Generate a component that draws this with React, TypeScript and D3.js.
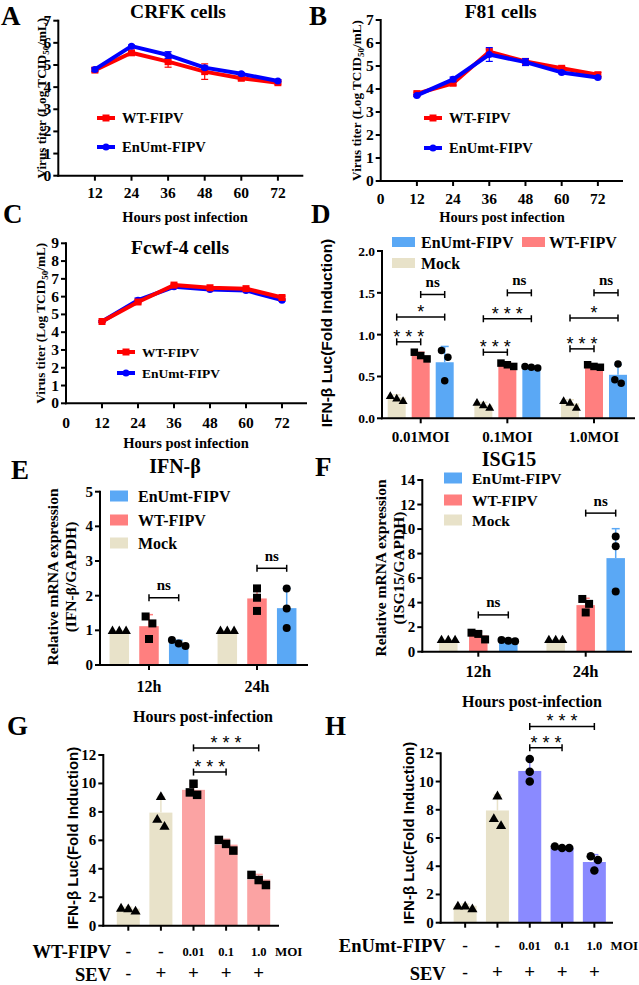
import React from "react";
import * as d3 from "d3";

const SERIF = "'Liberation Serif', 'Times New Roman', serif";
const SANS = "'Liberation Sans', Arial, sans-serif";

// ---------- Panels A–C: virus titer time courses ----------
const hours = [12, 24, 36, 48, 60, 72];
const crfkWT = [4.77, 5.55, 5.15, 4.7, 4.4, 4.2];
const crfkWTErr = [0.08, 0.06, 0.25, 0.35, 0.08, 0.06];
const crfkEn = [4.8, 5.85, 5.45, 4.88, 4.6, 4.28];
const crfkEnErr = [0.08, 0.05, 0.15, 0.08, 0.06, 0.05];
const f81WT = [3.8, 4.25, 5.62, 5.2, 4.9, 4.62];
const f81WTErr = [0.06, 0.08, 0.12, 0.1, 0.08, 0.1];
const f81En = [3.72, 4.42, 5.5, 5.17, 4.72, 4.5];
const f81EnErr = [0.05, 0.1, 0.3, 0.15, 0.06, 0.05];
const fcwfWT = [4.6, 5.7, 6.65, 6.5, 6.45, 5.95];
const fcwfWTErr = [0.05, 0.1, 0.06, 0.06, 0.05, 0.08];
const fcwfEn = [4.6, 5.8, 6.55, 6.4, 6.35, 5.8];
const fcwfEnErr = [0.05, 0.12, 0.05, 0.05, 0.05, 0.06];

// ---------- Panel D: IFN-β luciferase by MOI ----------
const dGroups = ["0.01MOI", "0.1MOI", "1.0MOI"];
const dMock = [0.25, 0.16, 0.18];
const dWT = [0.75, 0.64, 0.62];
const dEn = [0.67, 0.61, 0.52];
const dMockPts = [[0.27, 0.21, 0.24], [0.19, 0.13, 0.16], [0.21, 0.13, 0.19]];
const dWTPts = [[0.79, 0.71, 0.75], [0.66, 0.62, 0.64], [0.64, 0.61, 0.62]];
const dEnPts = [[0.81, 0.45, 0.73], [0.61, 0.6, 0.62], [0.42, 0.65, 0.46]];
const dBrackets: [number, number, number, number, string][] = [
  [0, 0, 1, 0.914, "***"], [0, 0, 2, 1.21, "*"], [0, 1, 2, 1.48, "ns"],
  [1, 0, 1, 0.79, "***"], [1, 0, 2, 1.19, "***"], [1, 1, 2, 1.5, "ns"],
  [2, 0, 1, 0.83, "***"], [2, 0, 2, 1.2, "*"], [2, 1, 2, 1.5, "ns"],
];

// ---------- Panels E, F: relative mRNA ----------
const timeGroups = ["12h", "24h"];
const eMock = [1.0, 1.0];
const eWT = [1.12, 1.92];
const eEn = [0.63, 1.64];
const eMockPts = [[1, 1, 1], [1, 1, 1]];
const eWTPts = [[1.2, 0.75, 1.4], [2.21, 1.94, 1.56]];
const eEnPts = [[0.55, 0.72, 0.62], [2.21, 1.63, 1.07]];
const eBrackets: [number, number, number, number, string][] = [
  [0, 1, 2, 1.94, "ns"], [1, 1, 2, 2.79, "ns"],
];
const fMock = [1.0, 1.0];
const fWT = [1.33, 3.8];
const fEn = [0.9, 7.63];
const fMockPts = [[1, 1, 1], [1, 1, 1]];
const fWTPts = [[1.55, 1.45, 1.0], [3.2, 3.9, 4.3]];
const fEnPts = [[0.9, 0.95, 0.85], [9.4, 8.6, 4.9]];
const fBrackets: [number, number, number, number, string][] = [
  [0, 1, 2, 3.0, "ns"], [1, 1, 2, 11.3, "ns"],
];

// ---------- Panels G, H: SEV induced IFN-β ----------
const virusRow = ["-", "-", "0.01", "0.1", "1.0"];
const sevRow = ["-", "+", "+", "+", "+"];
const gVals = [1.2, 7.95, 9.55, 5.7, 3.25];
const gPts = [[1.2, 1.05, 1.25], [7.0, 9.1, 7.5], [9.2, 9.98, 9.37], [5.28, 6.03, 5.75], [3.57, 2.86, 3.21]];
const gBrackets: [number, number, number, string][] = [[2, 3, 10.8, "***"], [2, 4, 12.5, "***"]];
const hVals = [1.2, 7.95, 10.75, 5.3, 4.3];
const hPts = [[1.2, 1.0, 1.2], [6.9, 9.0, 7.4], [10.0, 11.6, 10.7], [5.4, 5.3, 5.3], [3.7, 4.7, 4.45]];
const hBrackets: [number, number, number, string][] = [[2, 3, 12.4, "***"], [2, 4, 13.9, "***"]];

// ---------- colours ----------
const RED = "#ff0000";
const BLUE = "#0000ff";
const MOCK = "#e8e2c9";
const WTC = "#ff7f7f";
const ENC = "#5aa8f5";
const GWT = "#fba3a3";
const HEN = "#8a8aff";

type Shape = "square" | "circle" | "triangle";

function Marker({ shape, cx, cy, size, fill }: { shape: Shape; cx: number; cy: number; size: number; fill: string }) {
  const type = shape === "square" ? d3.symbolSquare : shape === "circle" ? d3.symbolCircle : d3.symbolTriangle;
  const area = shape === "square" ? size * size : shape === "circle" ? Math.PI * (size / 2) * (size / 2) : size * size * 0.62;
  const d = d3.symbol().type(type).size(area)() as string;
  return <path d={d} transform={`translate(${cx},${cy + (shape === "triangle" ? 0.8 : 0)})`} fill={fill} />;
}

function swarm(pts: number[], y: (v: number) => number, size: number): number[] {
  const idx = pts.map((v, i) => ({ i, py: y(v) })).sort((a, b) => a.py - b.py);
  const out = new Array(pts.length).fill(0);
  let cluster = [idx[0]];
  const flush = () => {
    const n = cluster.length;
    cluster.forEach((c, k) => (out[c.i] = (k - (n - 1) / 2) * size * 0.85));
  };
  for (let k = 1; k < idx.length; k++) {
    if (idx[k].py - idx[k - 1].py < size * 0.9) cluster.push(idx[k]);
    else { flush(); cluster = [idx[k]]; }
  }
  flush();
  return out;
}

function SigBracket({ x1, x2, y, label }: { x1: number; x2: number; y: number; label: string }) {
  const mid = (x1 + x2) / 2;
  const stars = label.includes("*");
  return (
    <g>
      <line x1={x1} x2={x2} y1={y} y2={y} stroke="#000" strokeWidth={1.5} />
      <line x1={x1} x2={x1} y1={y - 3.5} y2={y + 3.5} stroke="#000" strokeWidth={1.5} />
      <line x1={x2} x2={x2} y1={y - 3.5} y2={y + 3.5} stroke="#000" strokeWidth={1.5} />
      {stars ? (
        <text x={mid + 2.5} y={y + 1} textAnchor="middle" fontFamily={SANS} fontSize={18} letterSpacing={5}>{label}</text>
      ) : (
        <text x={mid} y={y - 7.5} textAnchor="middle" fontFamily={SERIF} fontWeight="bold" fontSize={15}>{label}</text>
      )}
    </g>
  );
}

function Letter({ x, y, ch }: { x: number; y: number; ch: string }) {
  return <text x={x} y={y} fontFamily={SERIF} fontWeight="bold" fontSize={27}>{ch}</text>;
}

function LinePanel(p: {
  x0: number; x1: number; yTop: number; yBot: number; ymax: number; zeroLabel: boolean;
  title: string; titleX: number; titleY: number;
  wt: number[]; wtErr: number[]; en: number[]; enErr: number[]; wtOnTop: boolean;
  legX: number; legY1: number; legY2: number; legFs: number;
  yTitleX: number; xLabelY: number; xTitleX: number; xTitleY: number;
}) {
  const x = d3.scaleLinear().domain([0, 80]).range([p.x0, p.x1]);
  const y = d3.scaleLinear().domain([0, p.ymax]).range([p.yBot, p.yTop]);
  const line = d3.line<number>().x((_, i) => x(hours[i])).y((d) => y(d));
  const xt = p.zeroLabel ? [0, ...hours] : hours;
  const series = [
    { vals: p.wt, err: p.wtErr, color: RED, shape: "square" as Shape, name: "WT-FIPV" },
    { vals: p.en, err: p.enErr, color: BLUE, shape: "circle" as Shape, name: "EnUmt-FIPV" },
  ];
  const ordered = p.wtOnTop ? [series[1], series[0]] : series;
  const cy = (p.yTop + p.yBot) / 2;
  return (
    <g>
      <line x1={p.x0} x2={p.x0} y1={p.yTop} y2={p.yBot} stroke="#000" strokeWidth={2} strokeLinecap="square" />
      <line x1={p.x0} x2={p.x1} y1={p.yBot} y2={p.yBot} stroke="#000" strokeWidth={2} strokeLinecap="square" />
      {d3.range(0, p.ymax + 1).map((t) => (
        <g key={t}>
          <line x1={p.x0 - 5} x2={p.x0} y1={y(t)} y2={y(t)} stroke="#000" strokeWidth={2} />
          <text x={p.x0 - 7} y={y(t) + 5} textAnchor="end" fontFamily={SERIF} fontWeight="bold" fontSize={15.5}>{t}</text>
        </g>
      ))}
      {xt.map((t) => (
        <g key={t}>
          {t > 0 && <line x1={x(t)} x2={x(t)} y1={p.yBot} y2={p.yBot + 5} stroke="#000" strokeWidth={2} />}
          <text x={x(t)} y={p.xLabelY} textAnchor="middle" fontFamily={SERIF} fontWeight="bold" fontSize={15.5}>{t}</text>
        </g>
      ))}
      <text x={p.xTitleX} y={p.xTitleY} textAnchor="middle" fontFamily={SERIF} fontWeight="bold" fontSize={14.5}>Hours post infection</text>
      <text transform={`translate(${p.yTitleX + 4.5},${cy}) rotate(-90)`} textAnchor="middle" fontFamily={SERIF} fontWeight="bold" fontSize={13.2}>
        Virus titer (Log TCID<tspan fontSize={9} dy={3}>50</tspan><tspan dy={-3}>/mL)</tspan>
      </text>
      <text x={p.titleX} y={p.titleY} textAnchor="middle" fontFamily={SERIF} fontWeight="bold" fontSize={19.5}>{p.title}</text>
      {ordered.map((s) => (
        <g key={s.name}>
          {s.vals.map((v, i) => (
            <g key={i}>
              <line x1={x(hours[i])} x2={x(hours[i])} y1={y(v - s.err[i])} y2={y(v + s.err[i])} stroke={s.color} strokeWidth={1.2} />
              <line x1={x(hours[i]) - 3.5} x2={x(hours[i]) + 3.5} y1={y(v - s.err[i])} y2={y(v - s.err[i])} stroke={s.color} strokeWidth={1.2} />
              <line x1={x(hours[i]) - 3.5} x2={x(hours[i]) + 3.5} y1={y(v + s.err[i])} y2={y(v + s.err[i])} stroke={s.color} strokeWidth={1.2} />
            </g>
          ))}
          <path d={line(s.vals) as string} fill="none" stroke={s.color} strokeWidth={4} strokeLinejoin="round" />
          {s.vals.map((v, i) => (
            <Marker key={i} shape={s.shape} cx={x(hours[i])} cy={y(v)} size={7} fill={s.color} />
          ))}
        </g>
      ))}
      {series.map((s, k) => {
        const ly = k === 0 ? p.legY1 : p.legY2;
        return (
          <g key={s.name}>
            <line x1={p.legX} x2={p.legX + 18} y1={ly} y2={ly} stroke={s.color} strokeWidth={4} />
            <Marker shape={s.shape} cx={p.legX + 9} cy={ly} size={7} fill={s.color} />
            <text x={p.legX + 25} y={ly + 5} fontFamily={SERIF} fontWeight="bold" fontSize={p.legFs}>{s.name}</text>
          </g>
        );
      })}
    </g>
  );
}

type Series = { name: string; color: string; vals: number[]; pts: number[][]; shape: Shape };

function GroupedPanel(p: {
  groups: string[]; series: Series[];
  axisX: number; axisRight: number; yTop: number; yBot: number; ymax: number; ticks: number[]; fmt: (v: number) => string; tickFs: number;
  gFirst: number; gLast: number; step: number; barW: number; mSize: number;
  brackets: [number, number, number, number, string][];
  legend: { idx: number; x: number; y: number; tx: number }[]; swW: number; swH: number; legFs: number;
  xLabelY: number; xLabelFs: number;
}) {
  const y = d3.scaleLinear().domain([0, p.ymax]).range([p.yBot, p.yTop]);
  const g = d3.scalePoint<string>().domain(p.groups).range([p.gFirst, p.gLast]);
  const pi = 1 - p.barW / p.step;
  const inner = d3.scaleBand<number>().domain(p.series.map((_, i) => i)).range([-1.5 * p.step, 1.5 * p.step]).paddingInner(pi).paddingOuter(pi / 2);
  const cx = (gi: number, si: number) => (g(p.groups[gi]) as number) + (inner(si) as number) + inner.bandwidth() / 2;
  return (
    <g>
      {p.series.map((s, si) =>
        s.vals.map((v, gi) => {
          const c = cx(gi, si);
          const sd = d3.deviation(s.pts[gi]) || 0;
          const top = y(v + sd);
          const off = swarm(s.pts[gi], y, p.mSize);
          return (
            <g key={`${si}-${gi}`}>
              <rect x={c - p.barW / 2} y={y(v)} width={p.barW} height={p.yBot - y(v)} fill={s.color} />
              {sd > 0.001 && (
                <g>
                  <line x1={c} x2={c} y1={y(v)} y2={top} stroke={s.color} strokeWidth={1.5} />
                  <line x1={c - 4} x2={c + 4} y1={top} y2={top} stroke={s.color} strokeWidth={1.5} />
                </g>
              )}
              {s.pts[gi].map((pv, k) => (
                <Marker key={k} shape={s.shape} cx={c + off[k]} cy={y(pv)} size={p.mSize} fill="#000" />
              ))}
            </g>
          );
        })
      )}
      <line x1={p.axisX} x2={p.axisX} y1={p.yTop} y2={p.yBot} stroke="#000" strokeWidth={2} strokeLinecap="square" />
      <line x1={p.axisX} x2={p.axisRight} y1={p.yBot} y2={p.yBot} stroke="#000" strokeWidth={2} strokeLinecap="square" />
      {p.ticks.map((t) => (
        <g key={t}>
          <line x1={p.axisX - 5} x2={p.axisX} y1={y(t)} y2={y(t)} stroke="#000" strokeWidth={2} />
          <text x={p.axisX - 7} y={y(t) + 5} textAnchor="end" fontFamily={SERIF} fontWeight="bold" fontSize={p.tickFs}>{p.fmt(t)}</text>
        </g>
      ))}
      {p.groups.map((gr) => (
        <g key={gr}>
          <line x1={g(gr)} x2={g(gr)} y1={p.yBot} y2={p.yBot + 5} stroke="#000" strokeWidth={2} />
          <text x={g(gr)} y={p.xLabelY} textAnchor="middle" fontFamily={SERIF} fontWeight="bold" fontSize={p.xLabelFs}>{gr}</text>
        </g>
      ))}
      {p.brackets.map(([gi, a, b, v, lab], k) => (
        <SigBracket key={k} x1={cx(gi, a)} x2={cx(gi, b)} y={y(v)} label={lab} />
      ))}
      {p.legend.map((l) => (
        <g key={l.idx}>
          <rect x={l.x} y={l.y - p.swH / 2} width={p.swW} height={p.swH} fill={p.series[l.idx].color} />
          <text x={l.tx} y={l.y + 5.5} fontFamily={SERIF} fontWeight="bold" fontSize={p.legFs}>{p.series[l.idx].name}</text>
        </g>
      ))}
    </g>
  );
}

function SevPanel(p: {
  vals: number[]; pts: number[][]; colors: string[]; shapes: Shape[];
  axisX: number; axisRight: number; yTop: number; yBot: number;
  bandL: number; bandR: number; barW: number;
  brackets: [number, number, number, string][];
  rowName: string; rowRight: number; row1Y: number; row2Y: number;
}) {
  const y = d3.scaleLinear().domain([0, 12]).range([p.yBot, p.yTop]);
  const idx = p.vals.map((_, i) => i);
  const padIn = 1 - p.barW / ((p.bandR - p.bandL) / idx.length);
  const x = d3.scaleBand<number>().domain(idx).range([p.bandL, p.bandR]).paddingInner(padIn).paddingOuter(padIn / 2);
  const cx = (i: number) => (x(i) as number) + x.bandwidth() / 2;
  const last = cx(idx.length - 1);
  return (
    <g>
      {p.vals.map((v, i) => {
        const c = cx(i);
        const sd = d3.deviation(p.pts[i]) || 0;
        const top = y(v + sd);
        const off = swarm(p.pts[i], y, 8.5);
        return (
          <g key={i}>
            <rect x={c - x.bandwidth() / 2} y={y(v)} width={x.bandwidth()} height={p.yBot - y(v)} fill={p.colors[i]} />
            <line x1={c} x2={c} y1={y(v)} y2={top} stroke={p.colors[i]} strokeWidth={1.5} />
            <line x1={c - 4} x2={c + 4} y1={top} y2={top} stroke={p.colors[i]} strokeWidth={1.5} />
            {p.pts[i].map((pv, k) => (
              <Marker key={k} shape={p.shapes[i]} cx={c + off[k]} cy={y(pv)} size={8.5} fill="#000" />
            ))}
          </g>
        );
      })}
      <line x1={p.axisX} x2={p.axisX} y1={p.yTop} y2={p.yBot} stroke="#000" strokeWidth={2} strokeLinecap="square" />
      <line x1={p.axisX} x2={p.axisRight} y1={p.yBot} y2={p.yBot} stroke="#000" strokeWidth={2} strokeLinecap="square" />
      {d3.range(0, 13, 2).map((t) => (
        <g key={t}>
          <line x1={p.axisX - 5} x2={p.axisX} y1={y(t)} y2={y(t)} stroke="#000" strokeWidth={2} />
          <text x={p.axisX - 7} y={y(t) + 5} textAnchor="end" fontFamily={SERIF} fontWeight="bold" fontSize={15}>{t}</text>
        </g>
      ))}
      {idx.map((i) => (
        <g key={i}>
          <line x1={cx(i)} x2={cx(i)} y1={p.yBot} y2={p.yBot + 5} stroke="#000" strokeWidth={2} />
          <text x={cx(i)} y={p.row1Y - (virusRow[i] === "-" ? 0 : 1)} textAnchor="middle" fontFamily={SERIF} fontWeight="bold" fontSize={virusRow[i] === "-" ? 17 : 12.5}>{virusRow[i]}</text>
          <text x={cx(i)} y={p.row2Y - 1} textAnchor="middle" fontFamily={SERIF} fontWeight="bold" fontSize={sevRow[i] === "+" ? 19 : 17}>{sevRow[i]}</text>
        </g>
      ))}
      <text x={last + 30} y={p.row1Y - 1} textAnchor="middle" fontFamily={SERIF} fontWeight="bold" fontSize={13}>MOI</text>
      <text x={p.rowRight} y={p.row1Y + 1} textAnchor="end" fontFamily={SERIF} fontWeight="bold" fontSize={18.5}>{p.rowName}</text>
      <text x={p.rowRight} y={p.row2Y + 0.5} textAnchor="end" fontFamily={SERIF} fontWeight="bold" fontSize={18.5}>SEV</text>
      {p.brackets.map(([a, b, v, lab], k) => (
        <SigBracket key={k} x1={cx(a)} x2={cx(b)} y={y(v)} label={lab} />
      ))}
    </g>
  );
}

function SansYTitle({ x, y, fs }: { x: number; y: number; fs: number }) {
  return (
    <text transform={`translate(${x + fs * 0.36},${y}) rotate(-90)`} textAnchor="middle" fontFamily={SANS} fontWeight="bold" fontSize={fs}>
      IFN-β Luc(Fold Induction)
    </text>
  );
}

function MrnaYTitle({ x1, x2, y, second }: { x1: number; x2: number; y: number; second: string }) {
  return (
    <g fontFamily={SERIF} fontWeight="bold" fontSize={15.5}>
      <text transform={`translate(${x1 + 5.5},${y}) rotate(-90)`} textAnchor="middle">Relative mRNA expression</text>
      <text transform={`translate(${x2 + 5.5},${y}) rotate(-90)`} textAnchor="middle">{second}</text>
    </g>
  );
}

export default function App() {
  const fmt1 = d3.format(".1f");
  const mrnaSeries = (mock: number[], wt: number[], en: number[], mp: number[][], wp: number[][], ep: number[][]): Series[] => [
    { name: "Mock", color: MOCK, vals: mock, pts: mp, shape: "triangle" },
    { name: "WT-FIPV", color: WTC, vals: wt, pts: wp, shape: "square" },
    { name: "EnUmt-FIPV", color: ENC, vals: en, pts: ep, shape: "circle" },
  ];
  return (
    <svg width={639} height={985} style={{ position: "absolute", left: 0, top: 0, background: "#fff" }}>
      <rect width={639} height={985} fill="#fff" />
      <Letter x={1} y={25} ch="A" />
      <Letter x={309} y={25} ch="B" />
      <Letter x={3} y={223} ch="C" />
      <Letter x={311} y={223} ch="D" />
      <Letter x={11} y={479} ch="E" />
      <Letter x={315} y={476} ch="F" />
      <Letter x={7} y={735} ch="G" />
      <Letter x={325} y={735} ch="H" />

      <LinePanel x0={58.3} x1={302.3} yTop={20.7} yBot={175.7} ymax={7} zeroLabel={false}
        title="CRFK cells" titleX={178} titleY={18}
        wt={crfkWT} wtErr={crfkWTErr} en={crfkEn} enErr={crfkEnErr} wtOnTop={false}
        legX={97} legY1={118} legY2={147} legFs={14.5}
        yTitleX={41.7} xLabelY={198} xTitleX={185} xTitleY={221.5} />
      <LinePanel x0={380.7} x1={622} yTop={20} yBot={181} ymax={7} zeroLabel={true}
        title="F81 cells" titleX={500.7} titleY={18}
        wt={f81WT} wtErr={f81WTErr} en={f81En} enErr={f81EnErr} wtOnTop={false}
        legX={424} legY1={118} legY2={148} legFs={14.5}
        yTitleX={356.5} xLabelY={204} xTitleX={502} xTitleY={221.5} />
      <LinePanel x0={66} x1={306} yTop={243.3} yBot={403.3} ymax={9} zeroLabel={true}
        title="Fcwf-4 cells" titleX={180} titleY={254}
        wt={fcwfWT} wtErr={fcwfWTErr} en={fcwfEn} enErr={fcwfEnErr} wtOnTop={true}
        legX={117} legY1={352} legY2={373} legFs={13.5}
        yTitleX={40} xLabelY={428} xTitleX={186} xTitleY={448} />

      <GroupedPanel groups={dGroups}
        series={mrnaSeries(dMock, dWT, dEn, dMockPts, dWTPts, dEnPts)}
        axisX={382} axisRight={634} yTop={251} yBot={418.3} ymax={2} ticks={[0, 0.5, 1, 1.5, 2]} fmt={fmt1} tickFs={13.5}
        gFirst={420.7} gLast={594} step={24} barW={18} mSize={7.5}
        brackets={dBrackets}
        legend={[{ idx: 2, x: 392, y: 242, tx: 421 }, { idx: 1, x: 522, y: 242, tx: 549 }, { idx: 0, x: 392, y: 263, tx: 421 }]}
        swW={23} swH={10} legFs={16} xLabelY={442} xLabelFs={15} />
      <SansYTitle x={326} y={333} fs={15.5} />

      <text x={175} y={473} textAnchor="middle" fontFamily={SERIF} fontWeight="bold" fontSize={20}>IFN-β</text>
      <GroupedPanel groups={timeGroups}
        series={mrnaSeries(eMock, eWT, eEn, eMockPts, eWTPts, eEnPts)}
        axisX={100} axisRight={307} yTop={491.7} yBot={665} ymax={5} ticks={[0, 1, 2, 3, 4, 5]} fmt={(v) => String(v)} tickFs={15}
        gFirst={149} gLast={257} step={29.7} barW={19.5} mSize={8}
        brackets={eBrackets}
        legend={[{ idx: 2, x: 110, y: 496, tx: 138 }, { idx: 1, x: 110, y: 520, tx: 138 }, { idx: 0, x: 110, y: 543, tx: 138 }]}
        swW={18} swH={11} legFs={16} xLabelY={691.5} xLabelFs={16} />
      <MrnaYTitle x1={52} x2={70} y={577} second="(IFN-β/GAPDH)" />

      <text x={509} y={466} textAnchor="middle" fontFamily={SERIF} fontWeight="bold" fontSize={20}>ISG15</text>
      <GroupedPanel groups={timeGroups}
        series={mrnaSeries(fMock, fWT, fEn, fMockPts, fWTPts, fEnPts)}
        axisX={422.3} axisRight={631} yTop={480} yBot={651.7} ymax={14} ticks={[0, 2, 4, 6, 8, 10, 12, 14]} fmt={(v) => String(v)} tickFs={15}
        gFirst={478.3} gLast={585.7} step={30} barW={18.5} mSize={8}
        brackets={fBrackets}
        legend={[{ idx: 2, x: 444, y: 478, tx: 472 }, { idx: 1, x: 444, y: 500, tx: 472 }, { idx: 0, x: 444, y: 520, tx: 472 }]}
        swW={18} swH={11} legFs={15.5} xLabelY={677} xLabelFs={16.5} />
      <MrnaYTitle x1={380} x2={398} y={568} second="(ISG15/GAPDH)" />

      <text x={203} y={722} textAnchor="middle" fontFamily={SERIF} fontWeight="bold" fontSize={16}>Hours post-infection</text>
      <SevPanel vals={gVals} pts={gPts} colors={[MOCK, MOCK, GWT, GWT, GWT]} shapes={["triangle", "triangle", "square", "square", "square"]}
        axisX={103.3} axisRight={278} yTop={755} yBot={925.7} bandL={112} bandR={275} barW={23}
        brackets={gBrackets} rowName="WT-FIPV" rowRight={111} row1Y={957} row2Y={980} />
      <SansYTitle x={72.5} y={838} fs={15} />

      <text x={532} y={707} textAnchor="middle" fontFamily={SERIF} fontWeight="bold" fontSize={16}>Hours post-infection</text>
      <SevPanel vals={hVals} pts={hPts} colors={[MOCK, MOCK, HEN, HEN, HEN]} shapes={["triangle", "triangle", "circle", "circle", "circle"]}
        axisX={440.7} axisRight={612} yTop={753.3} yBot={922.7} bandL={449} bandR={610.5} barW={23}
        brackets={hBrackets} rowName="EnUmt-FIPV" rowRight={445.7} row1Y={951} row2Y={979} />
      <SansYTitle x={409} y={833} fs={15} />
    </svg>
  );
}
